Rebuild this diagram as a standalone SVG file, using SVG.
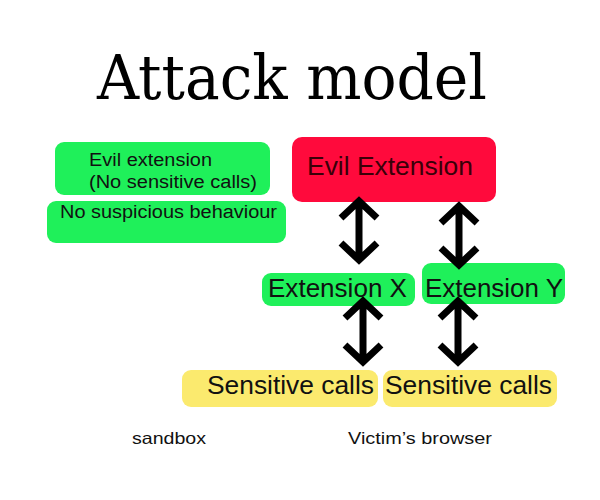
<svg xmlns="http://www.w3.org/2000/svg" width="600" height="500" viewBox="0 0 600 500">
<defs>
<style>
.t{font-family:"Liberation Sans",Arial,sans-serif;fill:#111;}
.g{fill:#1ff05a;}
.y{fill:#fbea6e;}
.r{fill:#ff0a3c;}
.arr{fill:none;stroke:#000;stroke-width:7;stroke-linejoin:miter;stroke-linecap:butt;}
</style>
</defs>
<rect width="600" height="500" fill="#fff"/>
<text x="97" y="99" font-family="'DejaVu Serif','Liberation Serif',serif" font-size="62" fill="#000" textLength="390" lengthAdjust="spacingAndGlyphs">Attack model</text>

<g id="evil-ext-note">
<rect class="g" x="55" y="142" width="215" height="53" rx="9"/>
<text class="t" x="89" y="166" font-size="18" textLength="123" lengthAdjust="spacingAndGlyphs">Evil extension</text>
<text class="t" x="89" y="188" font-size="18" textLength="168" lengthAdjust="spacingAndGlyphs">(No sensitive calls)</text>
</g>
<g id="no-suspicious">
<rect class="g" x="47" y="201" width="239" height="42" rx="9"/>
<text class="t" x="60" y="218" font-size="18" textLength="217" lengthAdjust="spacingAndGlyphs">No suspicious behaviour</text>
</g>
<g id="evil-extension">
<rect class="r" x="292" y="137" width="204" height="65" rx="10"/>
<text x="307" y="175" font-family="'Liberation Sans',Arial,sans-serif" font-size="25" fill="#3a0008" textLength="166" lengthAdjust="spacingAndGlyphs">Evil Extension</text>
</g>
<g id="extension-x">
<rect class="g" x="262" y="273" width="153" height="33" rx="9"/>
<text class="t" x="268" y="297" font-size="25" textLength="139" lengthAdjust="spacingAndGlyphs">Extension X</text>
</g>
<g id="extension-y">
<rect class="g" x="422" y="263" width="143" height="41" rx="9"/>
<text class="t" x="425" y="297" font-size="25" textLength="138" lengthAdjust="spacingAndGlyphs">Extension Y</text>
</g>
<g id="sensitive-1">
<rect class="y" x="182" y="370" width="196" height="37" rx="9"/>
<text class="t" x="207" y="394" font-size="25" textLength="167" lengthAdjust="spacingAndGlyphs">Sensitive calls</text>
</g>
<g id="sensitive-2">
<rect class="y" x="383" y="370" width="174" height="37" rx="9"/>
<text class="t" x="385" y="394" font-size="25" textLength="167" lengthAdjust="spacingAndGlyphs">Sensitive calls</text>
</g>
<g id="label-sandbox">
<text class="t" x="132" y="444" font-size="16.5" textLength="74" lengthAdjust="spacingAndGlyphs">sandbox</text>
</g>
<g id="label-victim">
<text class="t" x="348" y="444" font-size="16.5" textLength="144" lengthAdjust="spacingAndGlyphs">Victim’s browser</text>
</g>

<g id="connectors">
<path class="arr" d="M359 202V259M341 218L359 201L377 218M341 243L359 260L377 243"/>
<path class="arr" d="M459 207V264M441 223L459 206L477 223M441 248L459 265L477 248"/>
<path class="arr" d="M363 302V361M345 318L363 301L381 318M345 345L363 362L381 345"/>
<path class="arr" d="M458 302V361M440 318L458 301L476 318M440 345L458 362L476 345"/>
</g>
</svg>
